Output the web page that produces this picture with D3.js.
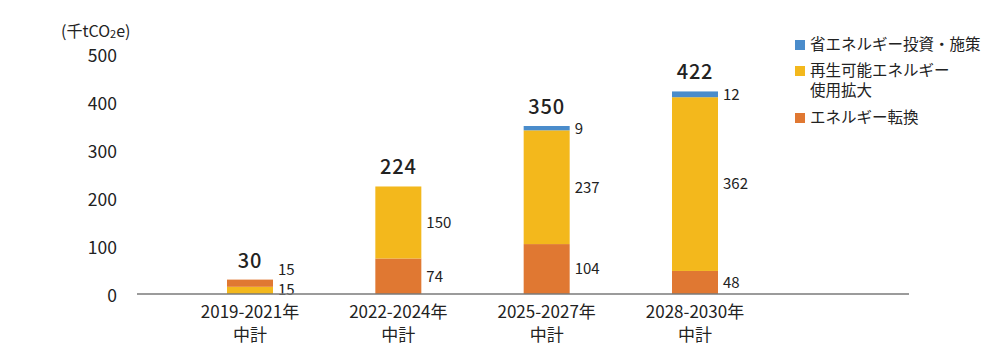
<!DOCTYPE html>
<html><head><meta charset="utf-8">
<script src="https://cdn.jsdelivr.net/npm/d3@7/dist/d3.min.js"></script>
<style>
body{margin:0;background:#fff;}
svg{display:block;font-family:"Noto Sans CJK JP","Noto Sans",sans-serif;}
</style></head>
<body><svg id="c" width="990" height="355"></svg>
<script>
const categories = ["2019-2021年|中計","2022-2024年|中計","2025-2027年|中計","2028-2030年|中計"];
const seriesNames = ["省エネルギー投資・施策","再生可能エネルギー|使用拡大","エネルギー転換"];
const energySaving = [0, 0, 9, 12];
const renewable = [15, 150, 237, 362];
const conversion = [15, 74, 104, 48];
const totals = [30, 224, 350, 422];
const yTicks = [0,100,200,300,400,500];
// stack order bottom->top, per category (series indices)
const stackOrder = [[1,2,0],[2,1,0],[2,1,0],[2,1,0]];
const colors = ["#4a8ccb","#f3b81c","#e07832"];

const svg = d3.select("#c");
const values = [energySaving, renewable, conversion];
const y = d3.scaleLinear().domain([0,500]).range([294,54]);
const x = d3.scalePoint().domain(categories).range([250,695]);
const bw = 46;

// y tick labels
svg.append("g").selectAll("text").data(yTicks).join("text")
  .attr("x",117).attr("y",d=>y(d)+2).attr("dy","0.36em")
  .attr("text-anchor","end").attr("font-size",17.5).attr("fill","#222").text(d=>d);

// unit label
const u = svg.append("text").attr("x",61).attr("y",37).attr("font-size",16).attr("fill","#222");
u.append("tspan").text("(千tCO");
u.append("tspan").attr("font-size",11).attr("dy",1).text("2");
u.append("tspan").attr("dy",-1).text("e)");

// bars
categories.forEach((c,i)=>{
  let acc = 0;
  const segs = [];
  stackOrder[i].forEach(s=>{
    const v = values[s][i];
    if(v>0){ segs.push({s, y0:acc, y1:acc+v, v}); }
    acc += v;
  });
  const g = svg.append("g");
  g.selectAll("rect").data(segs).join("rect")
    .attr("x",x(c)-bw/2).attr("width",bw)
    .attr("y",d=>y(d.y1)).attr("height",d=>y(d.y0)-y(d.y1))
    .attr("fill",d=>colors[d.s]);
  // segment labels with simple collision spacing
  const labs = segs.map(d=>({v:d.v, pos:(y(d.y0)+y(d.y1))/2}));
  if(segs.length===2 && Math.abs(labs[0].pos-labs[1].pos)<20){
    labs[0].pos = y(0)-4; labs[1].pos = labs[0].pos-20;
  }
  g.selectAll("text.seg").data(labs).join("text").attr("class","seg")
    .attr("x",x(c)+bw/2+5).attr("y",d=>d.pos).attr("dy","0.36em")
    .attr("font-size",15).attr("fill","#222").text(d=>d.v);
  g.append("text").attr("x",x(c)).attr("y",y(totals[i])-12)
    .attr("text-anchor","middle").attr("font-size",20).attr("font-weight",500)
    .attr("letter-spacing",0.8).attr("fill","#222").text(totals[i]);
  // category label
  const parts = c.split("|");
  const t = g.append("text").attr("text-anchor","middle").attr("font-size",17).attr("fill","#222");
  parts.forEach((p,k)=>t.append("tspan").attr("x",x(c)).attr("y",318+k*23).text(p));
});

// baseline
svg.append("line").attr("x1",137).attr("x2",909).attr("y1",y(0)).attr("y2",y(0))
  .attr("stroke","#7a7a7a").attr("stroke-width",1.6);

// legend
const legY = [44,70,117];
seriesNames.forEach((n,i)=>{
  svg.append("rect").attr("x",795).attr("y",legY[i]-4).attr("width",10).attr("height",10).attr("fill",colors[i]);
  const t = svg.append("text").attr("font-size",15.5).attr("fill","#222");
  n.split("|").forEach((p,k)=>t.append("tspan").attr("x",810).attr("y",legY[i]).attr("dy",(0.36+k*1.34)+"em").text(p));
});
</script></body></html>
